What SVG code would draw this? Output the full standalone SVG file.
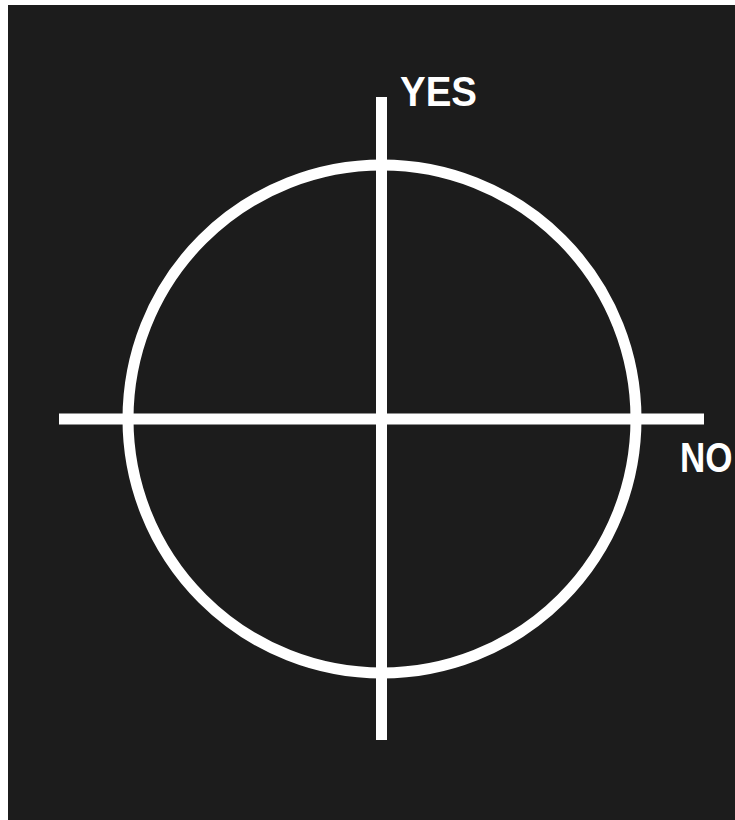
<svg xmlns="http://www.w3.org/2000/svg" width="735" height="820" viewBox="0 0 735 820">
<style>
.ln{stroke:#ffffff;stroke-width:11;fill:none}
.lbl{font-family:"Liberation Sans",Arial,sans-serif;font-weight:bold;font-size:43px;fill:#ffffff}
</style>
<rect x="0" y="0" width="735" height="820" fill="#ffffff"/>
<rect x="8" y="5" width="727" height="815" fill="#1c1c1c"/>
<g id="circle"><circle class="ln" cx="382" cy="419" r="254"/></g>
<g id="connectors">
<line class="ln" x1="381.5" y1="97" x2="381.5" y2="740"/>
<line class="ln" x1="59" y1="419" x2="704" y2="419"/>
</g>
<g id="yes"><text class="lbl" x="400" y="106" textLength="77" lengthAdjust="spacingAndGlyphs">YES</text></g>
<g id="no"><text class="lbl" style="font-size:35px" transform="translate(680,472) scale(1,1.2)" x="0" y="0">NO</text></g>
</svg>
